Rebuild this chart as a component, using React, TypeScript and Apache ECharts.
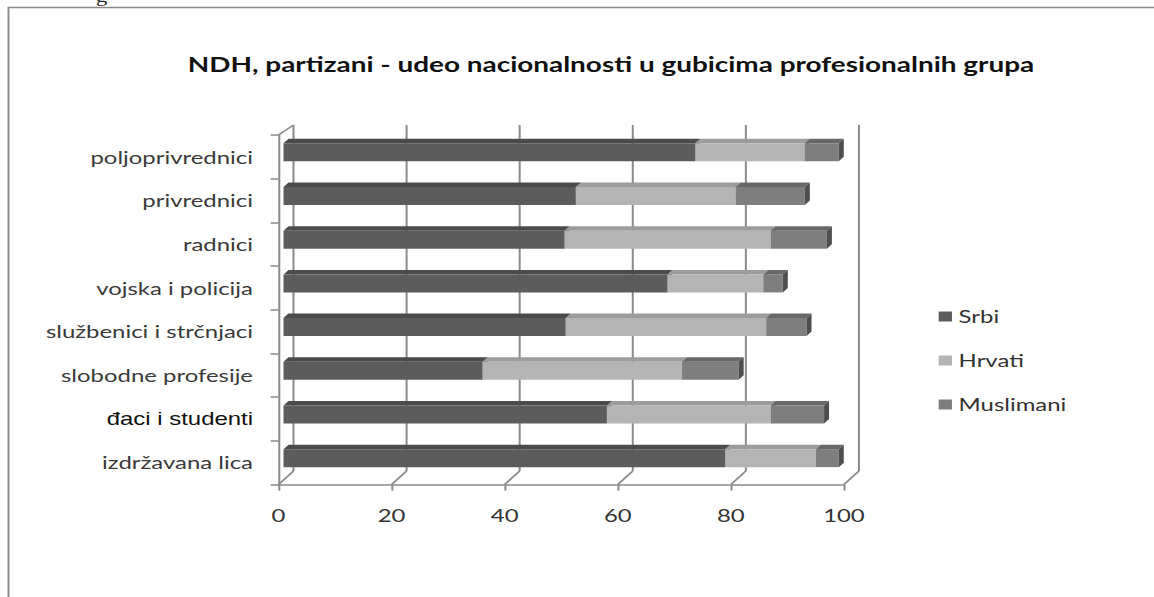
import React, { useEffect, useRef } from 'react';
import * as echarts from 'echarts';

// ---------- data ----------
const categories = [
  'poljoprivrednici',
  'privrednici',
  'radnici',
  'vojska i policija',
  'službenici i strčnjaci',
  'slobodne profesije',
  'đaci i studenti',
  'izdržavana lica',
];
const srbi = [72.8, 51.7, 49.7, 67.9, 49.9, 35.2, 57.2, 78.1];
const hrvati = [19.4, 28.3, 36.5, 17.0, 35.5, 35.3, 29.0, 16.1];
const muslimani = [6.0, 12.2, 9.9, 3.4, 7.1, 10.0, 9.4, 4.0];
const xTicks = [0, 20, 40, 60, 80, 100];
const seriesNames = ['Srbi', 'Hrvati', 'Muslimani'];
const titleText = 'NDH, partizani - udeo nacionalnosti u gubicima profesionalnih grupa';

// ---------- layout (the reference image is stretched horizontally) ----------
const S = 1.33;
const PAGE_W = 1154;
const PAGE_H = 597;
const W = PAGE_W / S;
const px = (x: number) => x / S;

const AXIS_COLOR = '#8a8a8a';
const WALL_DX = px(15);
const WALL_DY_TOP = 10;
const WALL_DY_BOTTOM = 13.5;
const BAR_DX = px(5);
const BAR_DY = 4.5;
const BAR_H = 18;

const faces = [
  { front: '#5c5c5c', top: '#4b4b4b', side: '#404040' },
  { front: '#b4b4b4', top: '#9c9c9c', side: '#8a8a8a' },
  { front: '#7e7e7e', top: '#686868', side: '#4e4e4e' },
];

function barRenderer(f: { front: string; top: string; side: string }) {
  return (params: any, api: any) => {
    const start = api.value(0);
    const end = api.value(1);
    const cat = api.value(2);
    const a = api.coord([start, cat]);
    const b = api.coord([end, cat]);
    const x0 = a[0] + BAR_DX;
    const x1 = b[0] + BAR_DX;
    const yc = a[1] - BAR_DY;
    const y0 = yc - BAR_H / 2;
    const y1 = yc + BAR_H / 2;
    return {
      type: 'group',
      children: [
        {
          type: 'polygon',
          shape: { points: [[x0, y0], [x1, y0], [x1 + BAR_DX, y0 - BAR_DY], [x0 + BAR_DX, y0 - BAR_DY]] },
          style: { fill: f.top },
        },
        {
          type: 'rect',
          shape: { x: x0, y: y0, width: x1 - x0, height: BAR_H },
          style: { fill: f.front },
        },
        {
          type: 'polygon',
          shape: { points: [[x1, y0], [x1 + BAR_DX, y0 - BAR_DY], [x1 + BAR_DX, y1 - BAR_DY], [x1, y1]] },
          style: { fill: f.side },
        },
      ],
    };
  };
}

function wallRenderer(params: any, api: any) {
  const v = api.value(0);
  const cs = params.coordSys;
  const x = api.coord([v, 0])[0];
  const top = cs.y;
  const bottom = cs.y + cs.height;
  const lineStyle = { stroke: AXIS_COLOR, lineWidth: 1.5 };
  const children: any[] = [
    {
      type: 'line',
      shape: { x1: x + WALL_DX, y1: top - WALL_DY_TOP, x2: x + WALL_DX, y2: bottom - WALL_DY_BOTTOM },
      style: lineStyle,
    },
    {
      type: 'line',
      shape: { x1: x + WALL_DX, y1: bottom - WALL_DY_BOTTOM, x2: x, y2: bottom },
      style: lineStyle,
    },
  ];
  if (v === xTicks[0]) {
    children.push({
      type: 'line',
      shape: { x1: x, y1: top, x2: x + WALL_DX, y2: top - WALL_DY_TOP },
      style: lineStyle,
    });
  }
  return { type: 'group', children };
}

export default function App() {
  const ref = useRef<HTMLDivElement>(null);

  useEffect(() => {
    if (!ref.current) return;
    const chart = echarts.init(ref.current, undefined, { renderer: 'svg' });

    const stacks = [srbi, hrvati, muslimani];
    const stackData = stacks.map((arr, s) =>
      arr.map((v, i) => {
        let base = 0;
        for (let k = 0; k < s; k++) base += stacks[k][i];
        return [base, base + v, i];
      })
    );

    const gridLeft = px(278.5);
    const gridRight = W - px(843.5);

    chart.setOption({
      animation: false,
      backgroundColor: '#ffffff',
      graphic: [
        {
          type: 'rect',
          shape: { x: px(8.5), y: 7.5, width: W + 50, height: PAGE_H + 50 },
          style: { fill: 'none', stroke: '#8c8c8c', lineWidth: 1.5 },
          silent: true,
        },
        {
          type: 'text',
          x: px(96),
          y: 5,
          style: {
            text: 'g',
            fill: '#222',
            font: '17px "Liberation Serif"',
            verticalAlign: 'bottom',
          },
          silent: true,
        },
        {
          type: 'text',
          x: px(611),
          y: 64,
          style: {
            text: titleText,
            fill: '#111',
            font: 'bold 21px Lato',
            align: 'center',
            verticalAlign: 'middle',
          },
        },
      ],
      legend: {
        data: seriesNames,
        orient: 'vertical',
        left: px(932),
        top: 300.5,
        icon: 'rect',
        itemWidth: 10,
        itemHeight: 10,
        itemGap: 22,
        textStyle: { fontFamily: 'Lato', fontSize: 18, color: '#333', lineHeight: 22 },
        selectedMode: false,
      },
      grid: { left: gridLeft, right: gridRight, top: 135, bottom: PAGE_H - 484.5, containLabel: false },
      xAxis: {
        type: 'value',
        min: 0,
        max: 100,
        interval: 20,
        axisLine: { show: true, lineStyle: { color: AXIS_COLOR, width: 1.5 } },
        axisTick: { show: true, length: 6, lineStyle: { color: AXIS_COLOR, width: 1.5 } },
        splitLine: { show: false },
        axisLabel: { fontFamily: 'Lato', fontSize: 18, color: '#333', margin: 22 },
      },
      yAxis: {
        type: 'category',
        data: categories,
        inverse: true,
        axisLine: { show: true, lineStyle: { color: AXIS_COLOR, width: 1.5 } },
        axisTick: { show: true, length: 6, lineStyle: { color: AXIS_COLOR, width: 1.5 } },
        splitLine: { show: false },
        axisLabel: {
          margin: px(278.5 - 253),
          formatter: (v: string) => (v === 'đaci i studenti' ? `{b|${v}}` : `{a|${v}}`),
          rich: {
            a: { fontFamily: 'Lato', fontSize: 18, color: '#3a3a3a' },
            b: { fontFamily: 'Liberation Sans', fontSize: 18, color: '#111' },
          },
        },
      },
      series: [
        {
          type: 'custom',
          name: 'walls',
          renderItem: wallRenderer,
          data: xTicks.map((v) => [v, 0]),
          encode: { x: 0, y: 1 },
          clip: false,
          silent: true,
          z: 1,
        },
        ...seriesNames.map((name, s) => ({
          type: 'custom',
          name,
          renderItem: barRenderer(faces[s]),
          data: stackData[s],
          encode: { x: [0, 1], y: 2 },
          itemStyle: { color: faces[s].front },
          clip: false,
          z: 2 + s,
        })),
      ],
    });

    return () => chart.dispose();
  }, []);

  return (
    <div
      style={{
        position: 'fixed',
        left: 0,
        top: 0,
        width: PAGE_W,
        height: PAGE_H,
        overflow: 'hidden',
        background: '#fff',
      }}
    >
      <div
        ref={ref}
        style={{
          width: W,
          height: PAGE_H,
          transform: `scaleX(${S})`,
          transformOrigin: '0 0',
        }}
      />
    </div>
  );
}
